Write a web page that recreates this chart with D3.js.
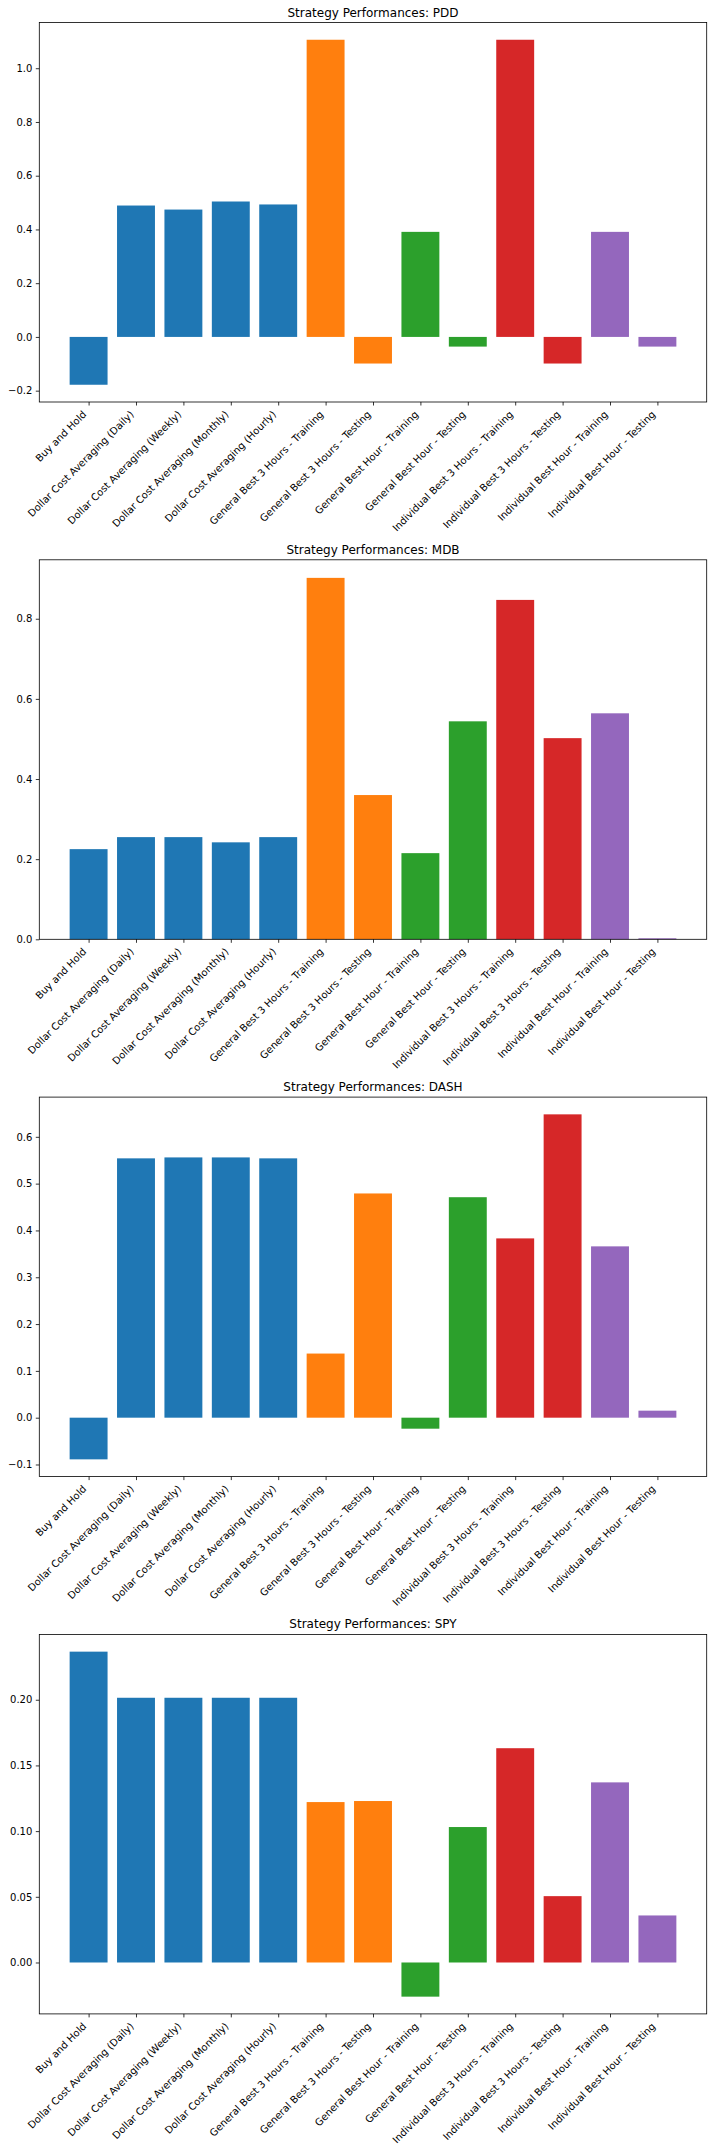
<!DOCTYPE html>
<html>
<head>
<meta charset="utf-8">
<script src="https://cdn.jsdelivr.net/npm/d3@7"></script>
<style>
  body { margin: 0; background: #fff; }
  text { font-family: "DejaVu Sans", sans-serif; fill: #000; }
  .title { font-size: 12px; }
  .tick text { font-size: 10px; }
</style>
</head>
<body>
<div id="svgContainer"></div>
<script>
// categories on the x axis
var strategies = [
  "Buy and Hold",
  "Dollar Cost Averaging (Daily)",
  "Dollar Cost Averaging (Weekly)",
  "Dollar Cost Averaging (Monthly)",
  "Dollar Cost Averaging (Hourly)",
  "General Best 3 Hours - Training",
  "General Best 3 Hours - Testing",
  "General Best Hour - Training",
  "General Best Hour - Testing",
  "Individual Best 3 Hours - Training",
  "Individual Best 3 Hours - Testing",
  "Individual Best Hour - Training",
  "Individual Best Hour - Testing"
];
// colour group of each bar
var groups = [0, 0, 0, 0, 0, 1, 1, 2, 2, 3, 3, 4, 4];
var groupColors = ["#1f77b4", "#ff7f0e", "#2ca02c", "#d62728", "#9467bd"];

var tickers = ["PDD", "MDB", "DASH", "SPY"];

// values
var pddValues  = [-0.178, 0.489, 0.474, 0.504, 0.493, 1.106, -0.099, 0.391, -0.036, 1.106, -0.099, 0.391, -0.036];
var mdbValues  = [0.225, 0.255, 0.255, 0.242, 0.255, 0.902, 0.360, 0.215, 0.544, 0.847, 0.502, 0.564, 0.0025];
var dashValues = [-0.089, 0.554, 0.556, 0.556, 0.554, 0.137, 0.479, -0.0235, 0.471, 0.383, 0.648, 0.366, 0.015];
var spyValues  = [0.2366, 0.2015, 0.2015, 0.2015, 0.2015, 0.1221, 0.1229, -0.026, 0.1031, 0.1631, 0.0505, 0.1371, 0.0358];

// y tick labels per chart
var pddTicks  = [-0.2, 0.0, 0.2, 0.4, 0.6, 0.8, 1.0];
var mdbTicks  = [0.0, 0.2, 0.4, 0.6, 0.8];
var dashTicks = [-0.1, 0.0, 0.1, 0.2, 0.3, 0.4, 0.5, 0.6];
var spyTicks  = [0.00, 0.05, 0.10, 0.15, 0.20];

var charts = [
  {ticker: tickers[0], values: pddValues,  ticks: pddTicks,  fmt: ".1f"},
  {ticker: tickers[1], values: mdbValues,  ticks: mdbTicks,  fmt: ".1f"},
  {ticker: tickers[2], values: dashValues, ticks: dashTicks, fmt: ".1f"},
  {ticker: tickers[3], values: spyValues,  ticks: spyTicks,  fmt: ".2f"}
];

var W = 712, H = 2152;
var left = 39.3, right = 706.7;
var firstTop = 22.5, step = 537.3, plotH = 379.5;

var svg = d3.select("#svgContainer").append("svg")
    .attr("width", W)
    .attr("height", H);

// matplotlib style x limits: bars of width 0.8, 5% margins
var n = strategies.length;
var xlo = -0.4, xhi = n - 1 + 0.4, xm = 0.05 * (xhi - xlo);
var x = d3.scaleLinear().domain([xlo - xm, xhi + xm]).range([left, right]);
var barW = x(0.8) - x(0);

charts.forEach(function(c, ci) {
  var top = firstTop + ci * step, bottom = top + plotH;

  // 5% margins, but bars stick to zero (no margin past a zero limit)
  var lo = Math.min(0, d3.min(c.values)), hi = Math.max(0, d3.max(c.values));
  var m = 0.05 * (hi - lo);
  var y = d3.scaleLinear()
      .domain([lo < 0 ? lo - m : 0, hi > 0 ? hi + m : 0])
      .range([bottom, top]);

  var g = svg.append("g");

  // bars
  g.selectAll("rect.bar")
      .data(c.values)
    .enter().append("rect")
      .attr("class", "bar")
      .attr("x", function(d, i) { return x(i) - barW / 2; })
      .attr("width", barW)
      .attr("y", function(d) { return y(Math.max(0, d)); })
      .attr("height", function(d) { return Math.abs(y(d) - y(0)); })
      .style("fill", function(d, i) { return groupColors[groups[i]]; });

  // y axis
  var yAxis = d3.axisLeft(y)
      .tickValues(c.ticks)
      .tickFormat(d3.format(c.fmt))
      .tickSizeInner(3.5)
      .tickSizeOuter(0)
      .tickPadding(3.5);
  var ya = g.append("g")
      .attr("transform", "translate(" + left + ",0)")
      .call(yAxis);
  ya.select(".domain").remove();
  ya.selectAll(".tick line").attr("stroke", "#000").attr("stroke-width", 0.8);

  // x axis ticks
  var xAxis = d3.axisBottom(x)
      .tickValues(d3.range(n))
      .tickFormat("")
      .tickSizeInner(3.5)
      .tickSizeOuter(0);
  var xa = g.append("g")
      .attr("transform", "translate(0," + bottom + ")")
      .call(xAxis);
  xa.select(".domain").remove();
  xa.selectAll(".tick line").attr("stroke", "#000").attr("stroke-width", 0.8);

  // rotated category labels (45 deg, right aligned)
  g.selectAll("text.xlab")
      .data(strategies)
    .enter().append("text")
      .attr("class", "xlab")
      .style("font-size", "10px")
      .attr("text-anchor", "end")
      .attr("transform", function(d, i) {
        return "translate(" + (x(i) - 1.5) + "," + (bottom + 13) + ") rotate(-45)";
      })
      .text(function(d) { return d; });

  // frame
  g.append("rect")
      .attr("x", left)
      .attr("y", top)
      .attr("width", right - left)
      .attr("height", plotH)
      .attr("fill", "none")
      .attr("stroke", "#000")
      .attr("stroke-width", 0.8);

  // title
  g.append("text")
      .attr("class", "title")
      .attr("x", (left + right) / 2)
      .attr("y", top - 6)
      .attr("text-anchor", "middle")
      .text("Strategy Performances: " + c.ticker);
});
</script>
</body>
</html>
